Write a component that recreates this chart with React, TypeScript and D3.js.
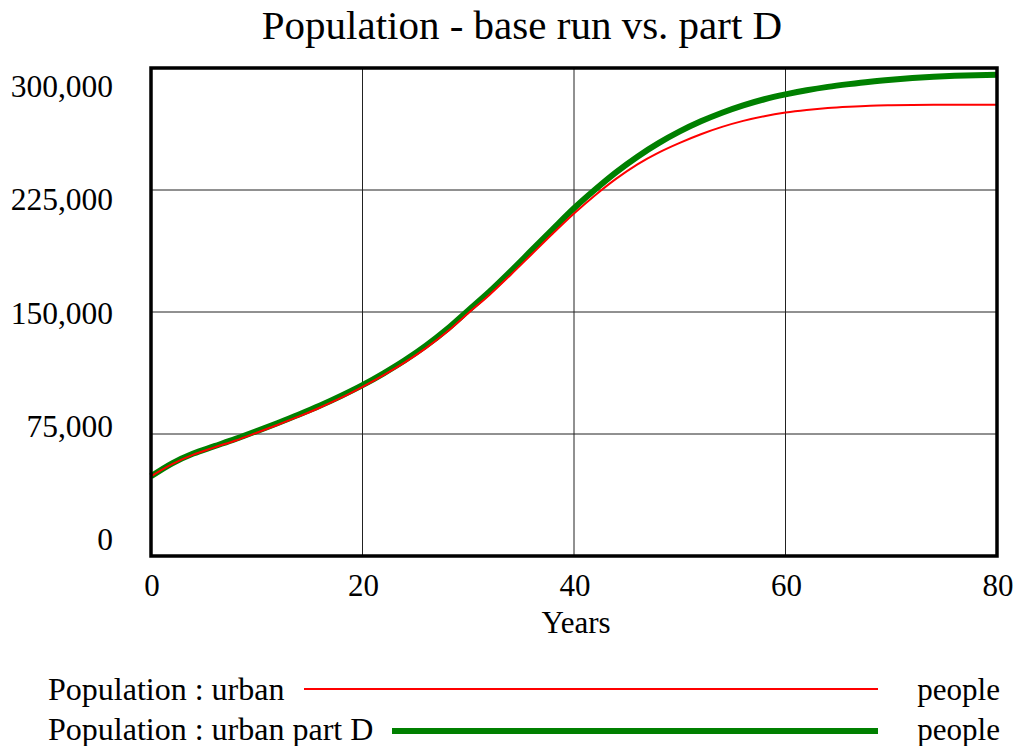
import React from 'react';
import * as d3 from 'd3';

// Simulation output (every 2 years)
const years: number[] = [
  0, 2, 4, 6, 8, 10, 12, 14, 16, 18, 20, 22, 24, 26, 28, 30, 32, 34, 36, 38, 40,
  42, 44, 46, 48, 50, 52, 54, 56, 58, 60, 62, 64, 66, 68, 70, 72, 74, 76, 78, 80,
];

const urban: number[] = [
  49000, 56500, 62300, 66800, 71000, 75800, 80700, 85800, 91300, 97300, 104000,
  111200, 119000, 127800, 137800, 149300, 160500, 172800, 185500, 198200, 210500,
  221800, 232000, 240800, 248000, 254000, 259300, 263800, 267500, 270400, 272600,
  274200, 275400, 276200, 276800, 277100, 277300, 277400, 277400, 277400, 277400,
];

const urbanPartD: number[] = [
  49000, 57000, 63000, 67500, 72000, 76800, 81800, 87000, 92500, 98500, 105000,
  112300, 120300, 129300, 139500, 151000, 162500, 175000, 188000, 201000, 213800,
  225300, 236000, 245500, 253800, 261000, 267200, 272500, 277000, 280800, 283800,
  286300, 288400, 290100, 291600, 292800, 293800, 294600, 295200, 295600, 295800,
];

const yTicks: number[] = [0, 75000, 150000, 225000, 300000];
const xTicks: number[] = [0, 20, 40, 60, 80];

const legendItems = [
  { label: 'Population : urban', color: '#ff0000', width: 2, lineStart: 304, lineY: 689, baseline: 700 },
  { label: 'Population : urban part D', color: '#008000', width: 6, lineStart: 392, lineY: 731, baseline: 740 },
];

const W = 1024;
const H = 746;
const left = 151;
const right = 997;
const top = 68;
const bottom = 556;
const font = "'Liberation Serif', 'Times New Roman', serif";

const App: React.FC = () => {
  const x = d3.scaleLinear().domain([0, 80]).range([left, right]);
  const y = d3.scaleLinear().domain([0, 300000]).range([bottom, top]);
  // Vensim spreads the value labels evenly inside the frame
  const yLabel = d3.scaleLinear().domain([0, 300000]).range([550, 97]);

  const line = (vals: number[]) =>
    d3
      .line<number>()
      .x((_, i) => x(years[i]))
      .y((d) => y(d))
      .curve(d3.curveMonotoneX)(vals) ?? '';

  return (
    <svg
      width={W}
      height={H}
      style={{ position: 'absolute', left: 0, top: 0, background: '#fff', fontFamily: font }}
    >
      <text x={522} y={39} fontSize={41} textAnchor="middle">
        Population - base run vs. part D
      </text>

      {/* grid */}
      {yTicks.slice(1, -1).map((t) => (
        <line key={'gy' + t} x1={left} x2={right} y1={y(t)} y2={y(t)} stroke="#222" strokeWidth={1} />
      ))}
      {xTicks.slice(1, -1).map((t) => (
        <line key={'gx' + t} x1={x(t)} x2={x(t)} y1={top} y2={bottom} stroke="#222" strokeWidth={1} />
      ))}

      {/* series */}
      <path d={line(urbanPartD)} fill="none" stroke="#008000" strokeWidth={6} strokeLinejoin="round" />
      <path d={line(urban)} fill="none" stroke="#ff0000" strokeWidth={2} strokeLinejoin="round" />

      {/* frame */}
      <rect x={left} y={top} width={right - left} height={bottom - top} fill="none" stroke="#000" strokeWidth={3.5} />

      {yTicks.map((t) => (
        <text key={'yl' + t} x={113} y={yLabel(t)} fontSize={31.5} textAnchor="end">
          {d3.format(',')(t)}
        </text>
      ))}
      {xTicks.map((t) => (
        <text key={'xl' + t} x={x(t) + 1} y={596} fontSize={31} textAnchor="middle">
          {t}
        </text>
      ))}
      <text x={576} y={633} fontSize={31} textAnchor="middle">
        Years
      </text>

      {/* legend */}
      {legendItems.map((it) => (
        <g key={it.label}>
          <text x={48} y={it.baseline} fontSize={32}>
            {it.label}
          </text>
          <line x1={it.lineStart} x2={878} y1={it.lineY} y2={it.lineY} stroke={it.color} strokeWidth={it.width} />
          <text x={1000} y={it.baseline} fontSize={31} textAnchor="end">
            people
          </text>
        </g>
      ))}
    </svg>
  );
};

export default App;
